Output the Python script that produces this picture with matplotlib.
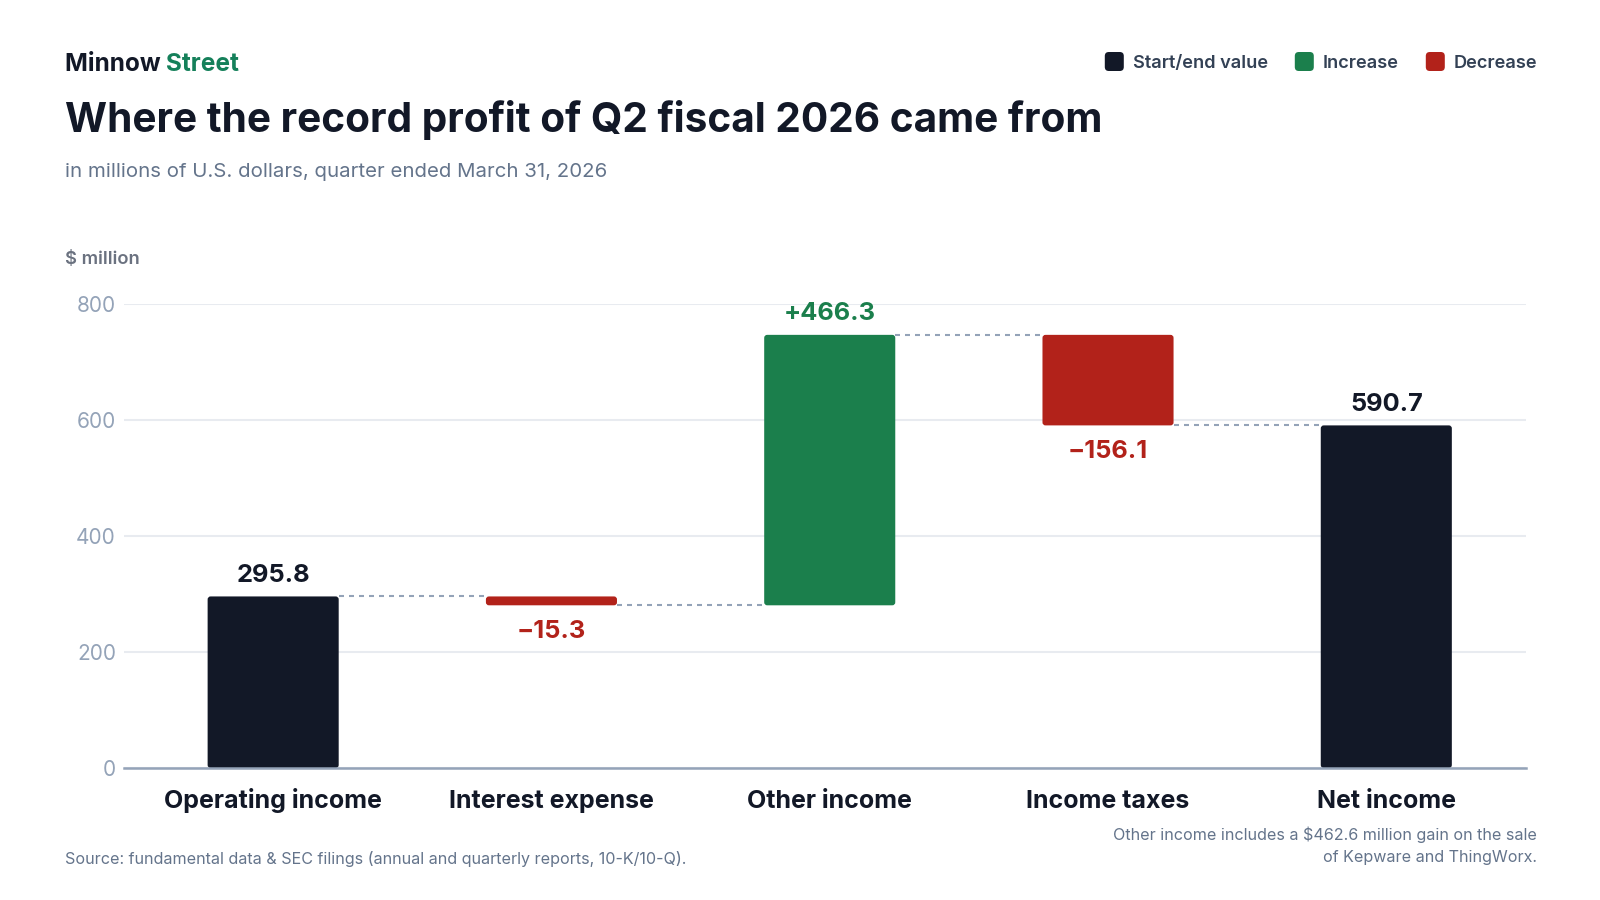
import matplotlib
matplotlib.use("Agg")
import matplotlib.pyplot as plt
from matplotlib.patches import FancyBboxPatch
import numpy as np

plt.rcParams['font.family'] = ['Inter', 'DejaVu Sans']

# ---- data ----
categories = ["Operating income", "Interest expense", "Other income", "Income taxes", "Net income"]
kinds = ["total", "delta", "delta", "delta", "total"]
values = [295.8, -15.3, 466.3, -156.1, 590.7]
yticks = [0, 200, 400, 600, 800]

NAVY = "#121827"
GREEN = "#1b7f4c"
RED = "#b2221a"
GRID = "#e8ebf0"
AXIS = "#94a3b8"
TICK = "#94a3b8"
SUB = "#64748b"

W, H = 1600, 900
fig = plt.figure(figsize=(16, 9), dpi=100)
fig.patch.set_facecolor("white")

left_px, right_px, top_px, bot_px = 124, 1526, 304, 768
ax = fig.add_axes([left_px / W, 1 - bot_px / H, (right_px - left_px) / W, (bot_px - top_px) / H])

bw = 0.471
running = 0.0
bottoms, heights, colors, levels = [], [], [], []
for k, v in zip(kinds, values):
    if k == "total":
        b, h, c = 0.0, v, NAVY
        running = v
    else:
        if v >= 0:
            b, h, c = running, v, GREEN
        else:
            b, h, c = running + v, -v, RED
        running = running + v
    bottoms.append(b); heights.append(h); colors.append(c); levels.append(running)

x = np.arange(len(categories))
xlim = (-0.536, 4.502)
ylim = (0, 800)
ax.set_xlim(*xlim)
ax.set_ylim(*ylim)
bars = ax.bar(x, heights, bottom=bottoms, width=bw, color=colors, zorder=3, linewidth=0)

# rounded corners (radius ~3 px) on the bars drawn above
px_per_x = (right_px - left_px) / (xlim[1] - xlim[0])
px_per_y = (bot_px - top_px) / (ylim[1] - ylim[0])
rad_x = 3.0 / px_per_x
aspect = px_per_x / px_per_y
for rect in bars:
    rx, ry = rect.get_x(), rect.get_y()
    rw, rh = rect.get_width(), rect.get_height()
    rr = min(rad_x, rh / aspect / 2)
    fb = FancyBboxPatch((rx, ry), rw, rh, boxstyle=f"round,pad=0,rounding_size={rr}",
                        mutation_aspect=aspect, facecolor=rect.get_facecolor(),
                        edgecolor="none", zorder=3)
    ax.add_patch(fb)
    rect.set_visible(False)

# connectors
for i in range(len(categories) - 1):
    ax.plot([x[i] + bw / 2, x[i + 1] - bw / 2], [levels[i], levels[i]],
            color=AXIS, lw=1.5, ls=(0, (2.4, 2.4)), zorder=2)

# labels
for i, (k, v) in enumerate(zip(kinds, values)):
    if k == "total":
        txt, col = f"{v:.1f}", NAVY
    elif v >= 0:
        txt, col = f"+{v:.1f}", GREEN
    else:
        txt, col = f"\u2212{abs(v):.1f}", RED
    if k == "total" or v >= 0:
        ax.annotate(txt, (x[i], bottoms[i] + heights[i]), xytext=(0, 10.6), textcoords="offset points",
                    ha="center", va="baseline", fontsize=18.3, fontweight="bold", color=col, zorder=5)
    else:
        ax.annotate(txt, (x[i], bottoms[i]), xytext=(0, -23.2), textcoords="offset points",
                    ha="center", va="baseline", fontsize=18.3, fontweight="bold", color=col, zorder=5)

ax.set_yticks(yticks)
ax.set_yticklabels([str(t) for t in yticks])
ax.set_xticks(x)
ax.set_xticklabels(categories)
ax.tick_params(axis="y", length=0, pad=5.8, labelsize=15, labelcolor=TICK)
ax.tick_params(axis="x", length=0, pad=28.5, labelsize=18, labelcolor=NAVY)
for lab in ax.get_xticklabels():
    lab.set_fontweight("bold")
    lab.set_verticalalignment("baseline")
ax.grid(axis="y", color=GRID, lw=1.5, zorder=0)
ax.set_axisbelow(True)
for s in ["top", "right", "left"]:
    ax.spines[s].set_visible(False)
ax.spines["bottom"].set_color(AXIS)
ax.spines["bottom"].set_linewidth(1.8)
ax.spines["bottom"].set_zorder(4)

# ---- header ----
def fy(px):
    return 1 - px / H

t1 = fig.text(64.6 / W, fy(70.7), "Minnow ", fontsize=17.6, fontweight="bold", color=NAVY, va="baseline", ha="left")
fig.canvas.draw()
r = fig.canvas.get_renderer()
bb = t1.get_window_extent(renderer=r)
fig.text(bb.x1 / W, fy(70.7), "Street", fontsize=17.6, fontweight="bold", color="#15805a", va="baseline", ha="left")

fig.text(64.6 / W, fy(131.7), "Where the record profit of Q2 fiscal 2026 came from", fontsize=29.2,
         fontweight="bold", color=NAVY, va="baseline", ha="left")
fig.text(64.6 / W, fy(176.7), "in millions of U.S. dollars, quarter ended March 31, 2026", fontsize=14.7,
         color=SUB, va="baseline", ha="left")
fig.text(64.6 / W, fy(264), "$ million", fontsize=13.2, fontweight="semibold", color="#6b7280",
         va="baseline", ha="left")

# legend
legend_items = [("Start/end value", NAVY, 1104.8), ("Increase", GREEN, 1294.8), ("Decrease", RED, 1425.8)]
for lab, col, xp in legend_items:
    sq = FancyBboxPatch((xp / W, fy(71)), 19 / W, 19 / H,
                        boxstyle="round,pad=0,rounding_size=0.0025", transform=fig.transFigure,
                        facecolor=col, edgecolor="none", mutation_aspect=W / H)
    fig.patches.append(sq)
    fig.text((xp + 28) / W, fy(67.7), lab, fontsize=13.1, fontweight="semibold", color="#334155",
             va="baseline", ha="left")

# footer
fig.text(65 / W, fy(864), "Source: fundamental data & SEC filings (annual and quarterly reports, 10-K/10-Q).",
         fontsize=11.6, color=SUB, va="baseline", ha="left")
fig.text(1536.8 / W, fy(840), "Other income includes a $462.6 million gain on the sale",
         fontsize=11.6, color=SUB, va="baseline", ha="right")
fig.text(1536.8 / W, fy(862), "of Kepware and ThingWorx.",
         fontsize=11.6, color=SUB, va="baseline", ha="right")

fig.savefig("out.png", dpi=100, facecolor="white")
